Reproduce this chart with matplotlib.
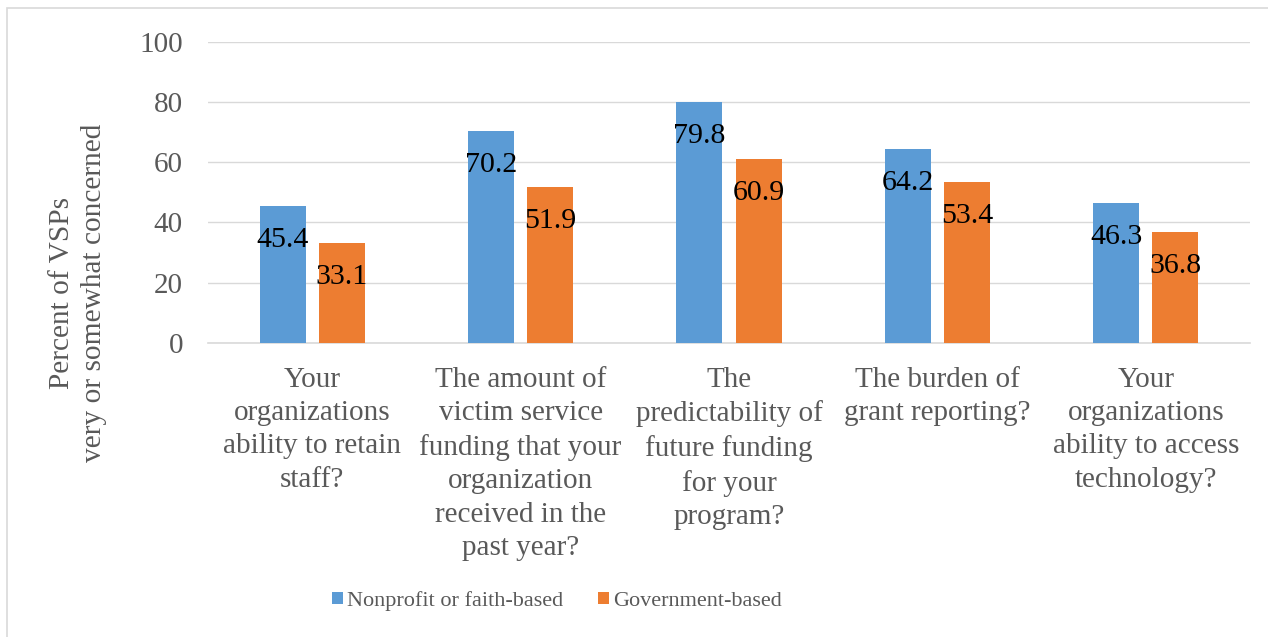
import matplotlib
matplotlib.use("Agg")
import matplotlib.pyplot as plt
from matplotlib.patches import Rectangle, Patch
import numpy as np

categories = [
    "Your\norganizations\nability to retain\nstaff?",
    "The amount of\nvictim service\nfunding that your\norganization\nreceived in the\npast year?",
    "The\npredictability of\nfuture funding\nfor your\nprogram?",
    "The burden of\ngrant reporting?",
    "Your\norganizations\nability to access\ntechnology?",
]
nonprofit = [45.4, 70.2, 79.8, 64.2, 46.3]
government = [33.1, 51.9, 60.9, 53.4, 36.8]
series_names = ["Nonprofit or faith-based", "Government-based"]
yticks = [0, 20, 40, 60, 80, 100]

W, H = 1268, 637
plt.rcParams['font.family'] = ['Liberation Serif', 'DejaVu Serif']
FS = 21
GRAY = '#595959'
GRID = '#D9D9D9'
BLUE = '#5B9BD5'
ORANGE = '#ED7D31'

fig = plt.figure(figsize=(W / 100, H / 100), dpi=100)
fig.patch.set_facecolor('white')

# chart border
fig.patches.append(Rectangle((7 / W, -0.05), 1.1, 1 - 8 / H + 0.05,
                             transform=fig.transFigure, fill=False,
                             edgecolor=GRID, linewidth=1.2))

left, right = 208 / W, 1250 / W
top, bottom = 1 - 41.5 / H, 1 - 343 / H
ax = fig.add_axes([left, bottom, right - left, top - bottom])

x = np.arange(len(categories))
bw = 0.22
off = 0.142
b1 = ax.bar(x - off, nonprofit, bw, color=BLUE, zorder=3)
b2 = ax.bar(x + off, government, bw, color=ORANGE, zorder=3)

for bars, vals in ((b1, nonprofit), (b2, government)):
    for rect, v in zip(bars, vals):
        ax.annotate(f"{v:.1f}", (rect.get_x() + rect.get_width() / 2, v),
                    xytext=(0, -24.5), textcoords='offset points',
                    ha='center', va='center', fontsize=21.5, color='black',
                    zorder=4)

ax.set_xlim(-0.5, len(categories) - 0.5)
ax.set_ylim(0, 100)
ax.set_yticks(yticks)
ax.set_yticklabels([str(t) for t in yticks])
ax.set_xticks(x)
ax.set_xticklabels(categories, linespacing=1.37)
ax.tick_params(axis='y', length=0, pad=18, labelsize=FS, labelcolor=GRAY)
ax.tick_params(axis='x', length=0, pad=17, labelsize=FS, labelcolor=GRAY)
for lab in ax.get_xticklabels():
    lab.set_verticalalignment('top')
    lab.set_multialignment('center')

ax.yaxis.grid(True, color=GRID, linewidth=1.0)
ax.set_axisbelow(True)
for s in ('top', 'right', 'left'):
    ax.spines[s].set_visible(False)
ax.spines['bottom'].set_color(GRID)
ax.spines['bottom'].set_linewidth(1.2)
ax.spines['bottom'].set_zorder(2)

fig.text(78 / W, 1 - 293 / H, "Percent of VSPs\nvery or somewhat concerned",
         rotation=90, ha='center', va='center', fontsize=21.2, color=GRAY,
         multialignment='center', linespacing=1.3)

handles = [Patch(facecolor=BLUE), Patch(facecolor=ORANGE)]
fig.legend(handles, series_names, loc='center',
           bbox_to_anchor=(557 / W, 1 - 601 / H), ncol=2, frameon=False,
           fontsize=16, labelcolor=GRAY, handlelength=0.5, handleheight=0.5,
           handletextpad=0.18, columnspacing=1.55, borderpad=0, borderaxespad=0)

fig.savefig("out.png", dpi=100)
